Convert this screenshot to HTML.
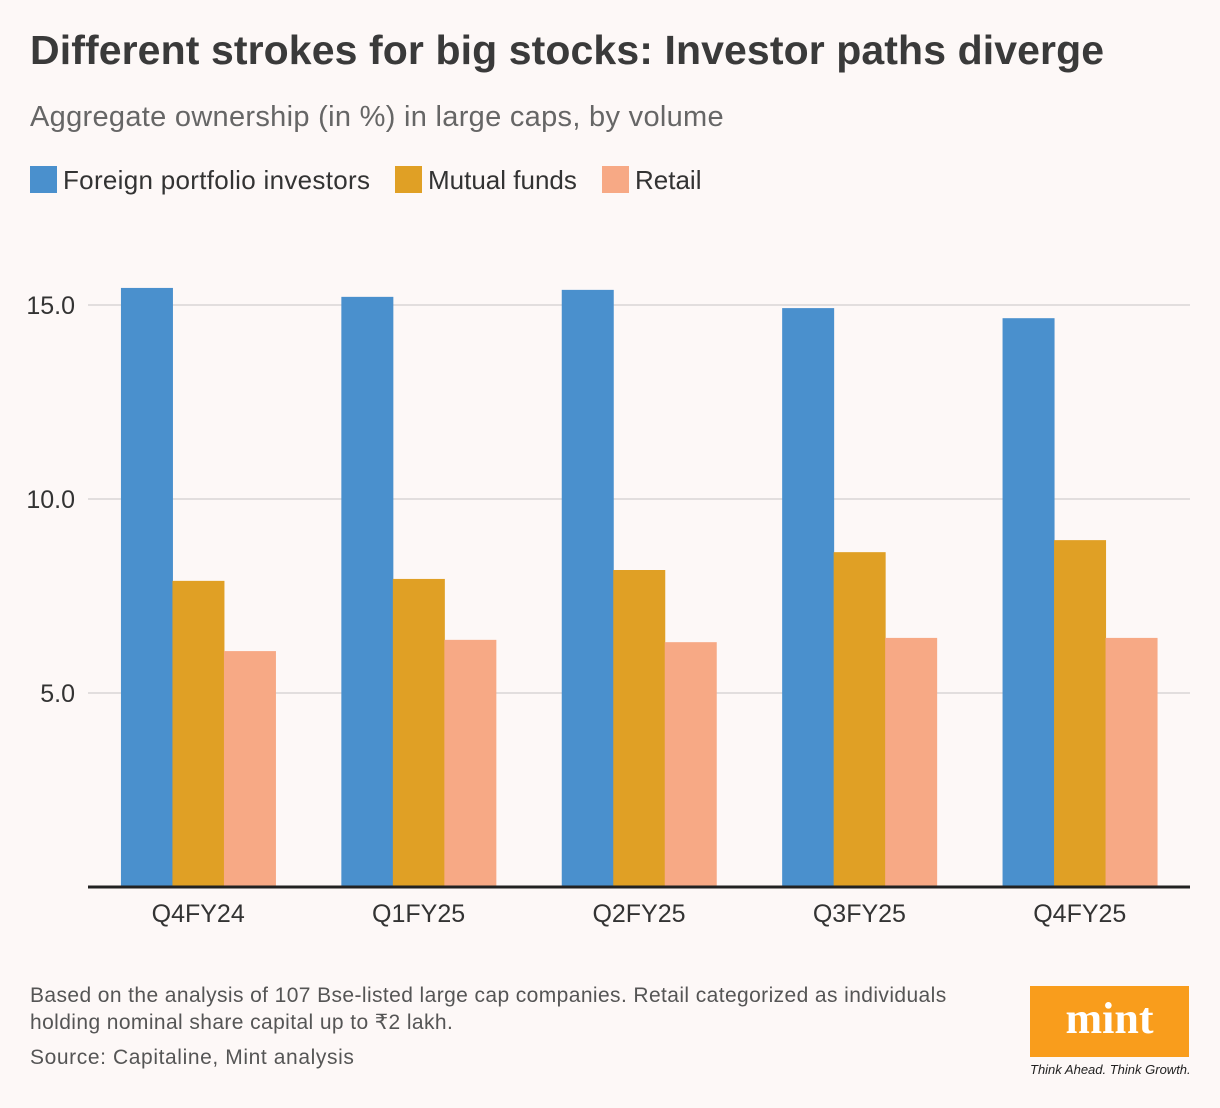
<!DOCTYPE html>
<html><head><meta charset="utf-8"><style>
body{margin:0;background:#fdf8f7;font-family:"Liberation Sans",sans-serif;}
#root{position:relative;width:1220px;height:1108px;overflow:hidden;background:#fdf8f7;}
.t{position:absolute;white-space:nowrap;}
</style></head><body>
<div id="root">
<div class="t" style="left:30px;top:27px;font-size:41px;font-weight:bold;color:#3a3a3a;letter-spacing:0.1px">Different strokes for big stocks: Investor paths diverge</div>
<div class="t" style="left:30px;top:101px;font-size:29px;color:#666;letter-spacing:0.3px">Aggregate ownership (in %) in large caps, by volume</div>
<div style="position:absolute;left:30px;top:165px;font-size:26px;color:#333;">
<span style="position:absolute;left:0;top:0;white-space:nowrap;letter-spacing:0.3px"><span style="display:inline-block;width:27px;height:27px;background:#4a90cd;vertical-align:-4px;margin-right:6px"></span>Foreign portfolio investors</span>
<span style="position:absolute;left:365px;top:0;white-space:nowrap"><span style="display:inline-block;width:27px;height:27px;background:#e0a025;vertical-align:-4px;margin-right:6px"></span>Mutual funds</span>
<span style="position:absolute;left:572px;top:0;white-space:nowrap"><span style="display:inline-block;width:27px;height:27px;background:#f7a985;vertical-align:-4px;margin-right:6px"></span>Retail</span>
</div>
<svg id="plot" width="1220" height="1108" style="position:absolute;left:0;top:0"></svg>
<div class="t" style="left:30px;top:982px;font-size:21px;color:#555;line-height:27px;letter-spacing:0.4px">Based on the analysis of 107 Bse-listed large cap companies. Retail categorized as individuals<br>holding nominal share capital up to ₹2 lakh.</div>
<div class="t" style="left:30px;top:1046px;font-size:21px;color:#555;letter-spacing:0.6px">Source: Capitaline, Mint analysis</div>
<div style="position:absolute;left:1030px;top:986px;width:159px;height:71px;background:#f99d1c;color:#fff;font-family:'Liberation Serif',serif;font-weight:bold;font-size:44px;text-align:center;line-height:66px">mint</div>
<div class="t" style="left:1030px;top:1062px;font-size:13px;font-style:italic;color:#222;letter-spacing:0px">Think Ahead. Think Growth.</div>
</div>
<script>
const categories=["Q4FY24","Q1FY25","Q2FY25","Q3FY25","Q4FY25"];
const fpiValues=[15.44,15.21,15.39,14.92,14.66];
const mfValues=[7.89,7.94,8.17,8.63,8.94];
const retailValues=[6.08,6.37,6.31,6.42,6.42];
const tickValues=[5,10,15];
const tickLabels=["5.0","10.0","15.0"];
const NS="http://www.w3.org/2000/svg";
const svg=document.getElementById('plot');
const x0=88,x1=1190,y0=887,pxPerUnit=38.8;
const y=v=>y0-v*pxPerUnit;
const groupW=(x1-x0)/categories.length;
const xc=i=>x0+groupW*(i+0.5);
const bw=51.5;
function mk(t,a){const e=document.createElementNS(NS,t);for(const k in a)e.setAttribute(k,a[k]);svg.appendChild(e);return e;}
tickValues.forEach((v,i)=>{
 const g=mk('line',{x1:x0,x2:x1,y1:y(v),y2:y(v),stroke:'#e2dede','stroke-width':2});
 
 
 const t=mk('text',{x:75,y:y(v)+9,'text-anchor':'end','font-size':25,fill:'#333','font-family':'Liberation Sans, sans-serif'});
 t.textContent=tickLabels[i];
 
 
});
const series=[[fpiValues,'#4a90cd','fpi'],[mfValues,'#e0a025','mf'],[retailValues,'#f7a985','retail']];
categories.forEach((c,i)=>{
 series.forEach((s,j)=>{
  const v=s[0][i];
  const r=mk('rect',{x:xc(i)-1.5*bw+j*bw,y:y(v),width:bw+0.5,height:y0-y(v),fill:s[1]});
  
  
 });
 const t=mk('text',{x:xc(i),y:922,'text-anchor':'middle','font-size':25,fill:'#333','font-family':'Liberation Sans, sans-serif'});
 t.textContent=c;
 
 
});
const ax=mk('line',{x1:x0,x2:x1,y1:y0,y2:y0,stroke:'#222','stroke-width':3});


</script>
</body></html>
